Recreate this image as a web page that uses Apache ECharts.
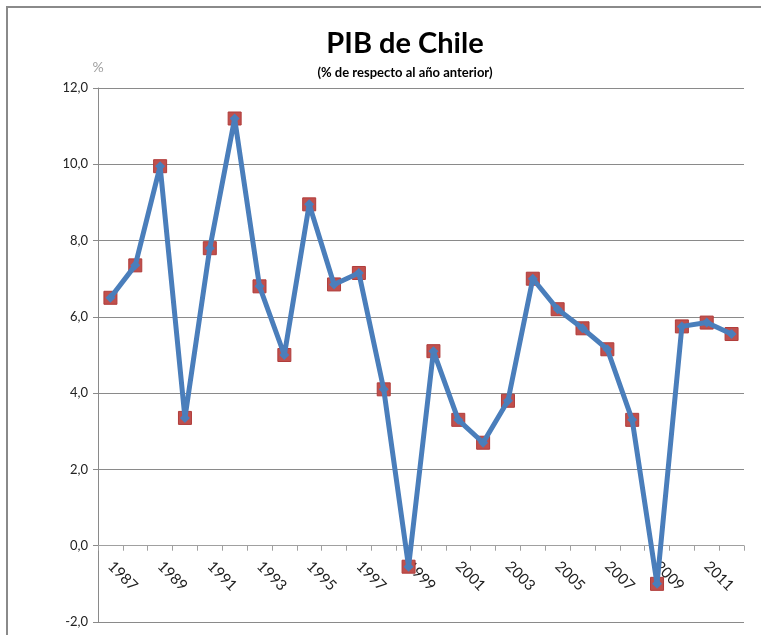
<!DOCTYPE html>
<html>
<head>
<meta charset="utf-8">
<script src="https://cdn.jsdelivr.net/npm/echarts@6/dist/echarts.min.js"></script>
<style>html,body{margin:0;padding:0;background:#fff;}#c{width:761px;height:635px;}</style>
</head>
<body>
<div id="c"></div>
<script>
var years = ['1987','1988','1989','1990','1991','1992','1993','1994','1995','1996','1997','1998','1999','2000','2001','2002','2003','2004','2005','2006','2007','2008','2009','2010','2011','2012'];
var pib = [6.5,7.35,9.95,3.35,7.8,11.2,6.8,5.0,8.95,6.85,7.15,4.1,-0.55,5.1,3.3,2.7,3.8,7.0,6.2,5.7,5.15,3.3,-1.0,5.75,5.85,5.55];
var yTicks = {min:-2, max:12, step:2};
var titleText = 'PIB de Chile';
var subtitleText = '(% de respecto al año anterior)';
var yName = '%';

var FONT = 'Lato';
var W = 761, H = 635;
var gridTop = 88, gridBottom = 13;
var plotH = H - gridTop - gridBottom;
// move the category axis up to the value 0 line
var zeroOffset = -plotH * (0 - yTicks.min) / (yTicks.max - yTicks.min);

var chart = echarts.init(document.getElementById('c'), null, {renderer:'canvas'});
chart.setOption({
  backgroundColor:'#ffffff',
  animation:false,
  title:{
    text:titleText, subtext:subtitleText, left:400, textAlign:'center', top:24, itemGap:8,
    textStyle:{fontFamily:FONT, fontWeight:'bold', fontSize:29, color:'#000'},
    subtextStyle:{fontFamily:FONT, fontWeight:'bold', fontSize:13, color:'#000'}
  },
  graphic:[{type:'rect', shape:{x:7,y:7,width:800,height:700}, style:{fill:'none', stroke:'#8a8a8a', lineWidth:2}, silent:true}],
  grid:{left:98, right:17, top:gridTop, bottom:gridBottom, containLabel:false, outerBoundsMode:'none'},
  xAxis:{
    type:'category', data:years, boundaryGap:true, position:'bottom', offset:zeroOffset,
    axisLine:{onZero:false, lineStyle:{color:'#a0a0a0', width:1}},
    axisTick:{show:true, interval:0, length:5, lineStyle:{color:'#a0a0a0'}},
    axisLabel:{interval:1, rotate:-45, margin:18, fontFamily:FONT, fontSize:15, color:'#222'},
    splitLine:{show:false}
  },
  yAxis:{
    type:'value', min:yTicks.min, max:yTicks.max, interval:yTicks.step,
    name:yName, nameLocation:'end', nameGap:14,
    nameTextStyle:{fontFamily:FONT, fontSize:14, color:'#a0a0a0', align:'center'},
    axisLine:{show:true, lineStyle:{color:'#8a8a8a', width:1}},
    axisTick:{show:true, length:5, lineStyle:{color:'#8a8a8a'}},
    axisLabel:{margin:10, fontFamily:FONT, fontSize:13, color:'#222', formatter:function(v){return v.toFixed(1).replace('.',',');}},
    splitLine:{show:true, lineStyle:{color:'#8a8a8a', width:1}}
  },
  series:[
    {type:'line', data:pib, symbol:'rect', symbolSize:13, lineStyle:{width:0, opacity:0},
     itemStyle:{color:'#C0504D', borderColor:'#B03C3A', borderWidth:1}, z:2},
    {type:'line', data:pib, symbol:'diamond', symbolSize:10, lineStyle:{width:5, color:'#4A7EBB'},
     itemStyle:{color:'#4A7EBB'}, z:3}
  ]
});
</script>
</body>
</html>
